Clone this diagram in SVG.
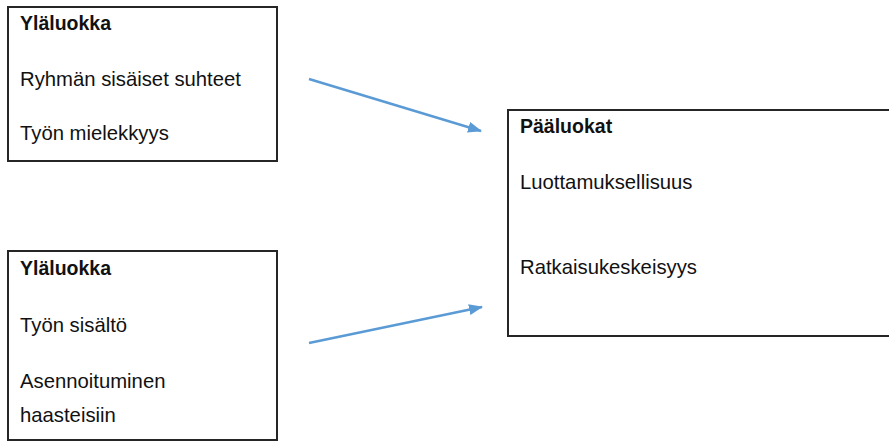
<svg xmlns="http://www.w3.org/2000/svg" width="889" height="442" viewBox="0 0 889 442">
<defs>
<style>
.box{fill:#fff;stroke:#262626;stroke-width:2}
.t{font-family:"Liberation Sans",Arial,sans-serif;font-size:20.3px;fill:#111}
.b{font-weight:bold;font-size:19.5px}
.conn{stroke:#5b9bd5;stroke-width:2.4;fill:none}
</style>
<marker id="ah" viewBox="0 0 14 11" refX="13" refY="5.5" markerWidth="14" markerHeight="11" markerUnits="userSpaceOnUse" orient="auto">
<path d="M0,0 L14,5.5 L0,11 Z" fill="#5b9bd5"/>
</marker>
</defs>
<rect width="889" height="442" fill="#fff"/>
<g id="node-top">
<rect class="box" x="8" y="7" width="269" height="154"/>
<text class="t b" x="20" y="30">Yläluokka</text>
<text class="t" x="20" y="86">Ryhmän sisäiset suhteet</text>
<text class="t" x="20" y="140">Työn mielekkyys</text>
</g>
<g id="node-bottom">
<rect class="box" x="8" y="251" width="269" height="189"/>
<text class="t b" x="20" y="275">Yläluokka</text>
<text class="t" x="20" y="332">Työn sisältö</text>
<text class="t" x="20" y="388">Asennoituminen</text>
<text class="t" x="20" y="422">haasteisiin</text>
</g>
<g id="node-main">
<rect class="box" x="508" y="110" width="392" height="226"/>
<text class="t b" x="520" y="133">Pääluokat</text>
<text class="t" x="520" y="189">Luottamuksellisuus</text>
<text class="t" x="520" y="274">Ratkaisukeskeisyys</text>
</g>
<g id="connectors">
<line class="conn" x1="309" y1="79" x2="481" y2="131" marker-end="url(#ah)"/>
<line class="conn" x1="309" y1="343" x2="482" y2="307" marker-end="url(#ah)"/>
</g>
</svg>
